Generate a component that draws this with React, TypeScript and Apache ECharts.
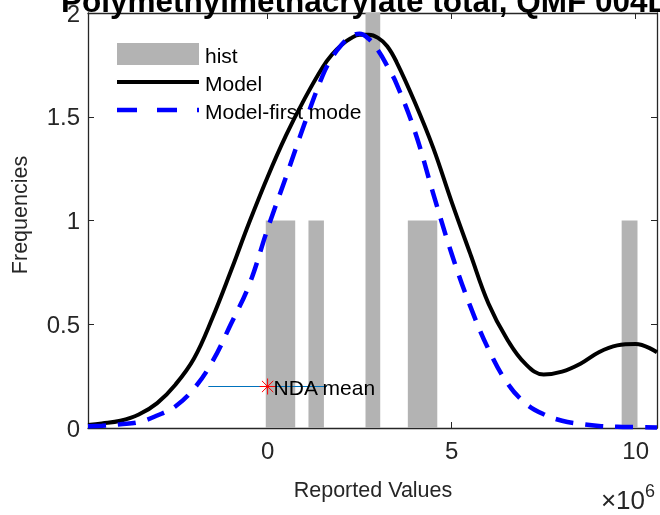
import React, { useEffect, useRef } from "react";
import * as echarts from "echarts";

// x values in units of 1e6
const xGrid = [-4.88, -4.5, -4.0, -3.5, -3.0, -2.5, -2.0, -1.5, -1.0, -0.5, 0.0, 0.5, 1.0, 1.5, 1.75, 2.0, 2.25, 2.5, 2.75, 3.0, 3.25, 3.5, 4.0, 4.5, 5.0, 5.5, 6.0, 6.5, 7.0, 7.5, 8.0, 8.5, 9.0, 9.5, 10.0, 10.58];
const modelValues = [0.015, 0.022, 0.035, 0.065, 0.12, 0.21, 0.335, 0.53, 0.755, 0.99, 1.21, 1.41, 1.585, 1.74, 1.80, 1.845, 1.877, 1.895, 1.895, 1.88, 1.84, 1.765, 1.57, 1.35, 1.09, 0.843, 0.6, 0.43, 0.31, 0.258, 0.272, 0.31, 0.365, 0.398, 0.405, 0.365];
const firstModeValues = [0.008, 0.011, 0.018, 0.028, 0.06, 0.105, 0.19, 0.32, 0.5, 0.69, 0.96, 1.21, 1.465, 1.7, 1.785, 1.845, 1.885, 1.9, 1.875, 1.82, 1.745, 1.66, 1.43, 1.13, 0.84, 0.59, 0.38, 0.22, 0.12, 0.066, 0.035, 0.02, 0.01, 0.006, 0.004, 0.002];

const binLeft = [-0.05, 1.11, 2.66, 3.81, 9.62];
const binRight = [0.75, 1.53, 3.06, 4.61, 10.05];
const binCount = [1, 1, 2, 1, 1];

const ndaMean = 0;
const ndaLevel = 0.2;
const ndaLow = -1.61;
const ndaHigh = 1.61;

const xTicks = [0, 5, 10];

const titleText = "Polymethylmethacrylate total, QMF 004L";
const FONT = "Liberation Sans, Arial, Helvetica, sans-serif";

export default function App() {
  const ref = useRef<HTMLDivElement>(null);
  useEffect(() => {
    document.body.style.margin = "0";
    const chart = echarts.init(ref.current!, null, { renderer: "svg" });
    const grid = { left: 88, right: 3, top: 13, bottom: 87 };
    const axisCommon = {
      type: "value" as const,
      axisLine: { show: true, onZero: false, lineStyle: { color: "#262626", width: 1.3 } },
      splitLine: { show: false },
    };
    const option: any = {
      animation: false,
      grid,
      xAxis: [
        {
          ...axisCommon,
          position: "bottom",
          min: -4.88,
          max: 10.58,
          axisTick: { show: true, inside: true, length: 6, customValues: xTicks, lineStyle: { color: "#262626" } },
          axisLabel: { show: true, customValues: xTicks, color: "#262626", fontSize: 24, fontFamily: FONT, margin: 10 },
        },
        {
          ...axisCommon,
          position: "top",
          min: -4.88,
          max: 10.58,
          axisTick: { show: true, inside: true, length: 6, customValues: xTicks, lineStyle: { color: "#262626" } },
          axisLabel: { show: false },
        },
      ],
      yAxis: [
        {
          ...axisCommon,
          position: "left",
          min: 0,
          max: 2,
          interval: 0.5,
          axisTick: { show: true, inside: true, length: 6, lineStyle: { color: "#262626" } },
          axisLabel: { show: true, color: "#262626", fontSize: 24, fontFamily: FONT, margin: 8, formatter: (v: number) => String(v) },
        },
        {
          ...axisCommon,
          position: "right",
          min: 0,
          max: 2,
          interval: 0.5,
          axisTick: { show: true, inside: true, length: 6, lineStyle: { color: "#262626" } },
          axisLabel: { show: false },
        },
      ],
      series: [
        {
          type: "custom",
          name: "hist",
          clip: true,
          data: binLeft.map((l, i) => [l, binRight[i], binCount[i]]),
          encode: { x: [0, 1], y: 2 },
          renderItem: (params: any, api: any) => {
            const p0 = api.coord([api.value(0), api.value(2)]);
            const p1 = api.coord([api.value(1), 0]);
            return {
              type: "rect",
              shape: { x: p0[0], y: p0[1], width: p1[0] - p0[0], height: p1[1] - p0[1] },
              style: { fill: "#b3b3b3" },
            };
          },
          z: 1,
        },
        {
          type: "line",
          name: "Model",
          data: xGrid.map((x, i) => [x, modelValues[i]]),
          showSymbol: false,
          smooth: 0.4,
          lineStyle: { color: "#000000", width: 4 },
          z: 2,
        },
        {
          type: "line",
          name: "Model-first mode",
          data: xGrid.map((x, i) => [x, firstModeValues[i]]),
          showSymbol: false,
          smooth: 0.4,
          lineStyle: { color: "#0000ff", width: 4.5, type: [18, 12], cap: "butt" },
          z: 3,
        },
        {
          type: "line",
          name: "NDA range",
          data: [[ndaLow, ndaLevel], [ndaHigh, ndaLevel]],
          showSymbol: false,
          lineStyle: { color: "#0072bd", width: 1 },
          z: 4,
        },
        {
          type: "custom",
          name: "NDA mean",
          data: [[ndaMean, ndaLevel]],
          encode: { x: 0, y: 1 },
          renderItem: (params: any, api: any) => {
            const p = api.coord([api.value(0), api.value(1)]);
            const r = 8;
            const d = r * 0.707;
            const st = { stroke: "#ff0000", lineWidth: 1 };
            return {
              type: "group",
              children: [
                { type: "line", shape: { x1: p[0] - r, y1: p[1], x2: p[0] + r, y2: p[1] }, style: st },
                { type: "line", shape: { x1: p[0], y1: p[1] - r, x2: p[0], y2: p[1] + r }, style: st },
                { type: "line", shape: { x1: p[0] - d, y1: p[1] - d, x2: p[0] + d, y2: p[1] + d }, style: st },
                { type: "line", shape: { x1: p[0] - d, y1: p[1] + d, x2: p[0] + d, y2: p[1] - d }, style: st },
                {
                  type: "text",
                  x: p[0] + 6,
                  y: p[1] + 1,
                  style: { text: "NDA mean", fill: "#000000", fontSize: 21, fontFamily: FONT, verticalAlign: "middle", align: "left" },
                },
              ],
            };
          },
          z: 5,
        },
      ],
      graphic: [
        // title (cut off by the top and right edges, as in the reference)
        {
          type: "text",
          x: 61,
          y: 1,
          style: { text: titleText, fill: "#000000", fontSize: 31.5, fontWeight: "bold", fontFamily: FONT, verticalAlign: "middle", align: "left" },
          z: 1,
        },
        // legend
        { type: "rect", shape: { x: 117, y: 43, width: 82, height: 22 }, style: { fill: "#b3b3b3" }, z: 10 },
        { type: "text", x: 205, y: 55, style: { text: "hist", fill: "#000000", fontSize: 21, fontFamily: FONT, verticalAlign: "middle" }, z: 10 },
        { type: "line", shape: { x1: 117, y1: 82, x2: 199, y2: 82 }, style: { stroke: "#000000", lineWidth: 4 }, z: 10 },
        { type: "text", x: 205, y: 83, style: { text: "Model", fill: "#000000", fontSize: 21, fontFamily: FONT, verticalAlign: "middle" }, z: 10 },
        { type: "line", shape: { x1: 117, y1: 110, x2: 199, y2: 110 }, style: { stroke: "#0000ff", lineWidth: 4.5, lineDash: [20, 20] }, z: 10 },
        { type: "text", x: 205, y: 111, style: { text: "Model-first mode", fill: "#000000", fontSize: 21, fontFamily: FONT, verticalAlign: "middle" }, z: 10 },
        // axis names
        { type: "text", x: 373, y: 490, style: { text: "Reported Values", fill: "#262626", fontSize: 21.5, fontFamily: FONT, align: "center", verticalAlign: "middle" }, z: 10 },
        {
          type: "text",
          x: 20,
          y: 215,
          rotation: Math.PI / 2,
          style: { text: "Frequencies", fill: "#262626", fontSize: 21.5, fontFamily: FONT, align: "center", verticalAlign: "middle" },
          z: 10,
        },
        {
          type: "text",
          x: 655,
          y: 500,
          style: {
            text: "{a|×10}{b|6}",
            align: "right",
            verticalAlign: "middle",
            rich: {
              a: { fontSize: 26, fontFamily: FONT, fill: "#262626", color: "#262626" },
              b: { fontSize: 18, fontFamily: FONT, fill: "#262626", color: "#262626", verticalAlign: "top", padding: [0, 0, 18, 0] },
            },
          },
          z: 10,
        },
      ],
    };
    chart.setOption(option);
    return () => chart.dispose();
  }, []);
  return <div ref={ref} style={{ position: "fixed", left: 0, top: 0, width: 660, height: 515 }} />;
}
